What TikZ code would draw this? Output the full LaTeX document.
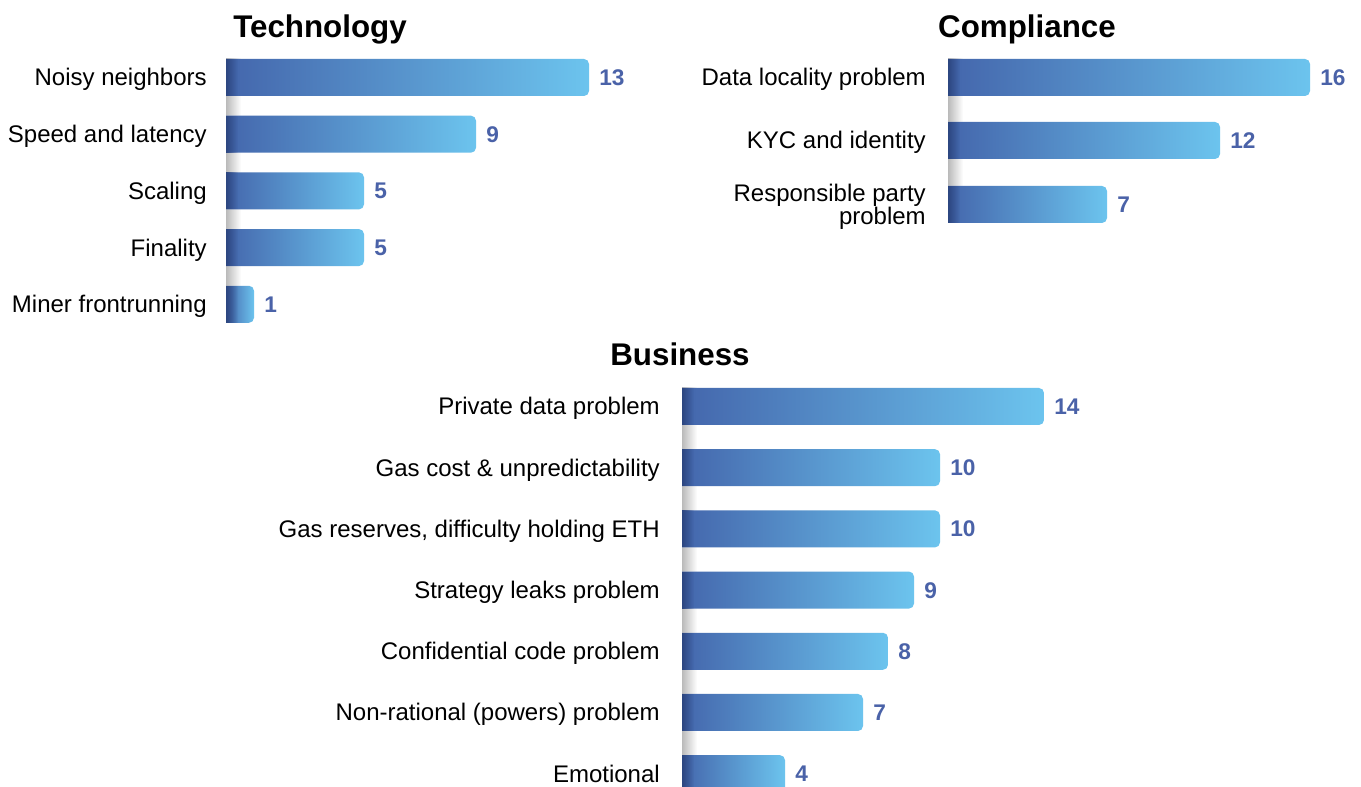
\documentclass[tikz,border=0pt]{standalone}
\usepackage{fontspec}
\setmainfont{Liberation Sans}
\usetikzlibrary{fadings}
\definecolor{barL}{HTML}{4466AC}
\definecolor{barR}{HTML}{6CC4EE}
\definecolor{barD}{HTML}{2C4680}
\definecolor{numC}{HTML}{4A62A8}
\tikzfading[name=fadeR, left color=transparent!0, right color=transparent!100]
\tikzset{
  lbl/.style={inner sep=0pt, font=\fontsize{18}{17.5}\selectfont},
  num/.style={inner sep=0pt, text=numC, font=\fontsize{17}{20}\selectfont\bfseries},
  ttl/.style={inner sep=0pt, font=\fontsize{23.5}{28}\selectfont\bfseries},
  axshade/.style={left color=black!27, right color=white, draw=none},
  barfill/.style={left color=barL, right color=barR, draw=none},
  baredge/.style={fill=barD, path fading=fadeR, draw=none}
}
\newcommand\barrow[7]{%
  \pgfmathsetmacro\yt{787-#3}%
  \pgfmathsetmacro\yb{787-#3-37}%
  \pgfmathsetmacro\yc{787-#3-18.5}%
  \shade[barfill] (#2,\yt) -- (#4-5,\yt) arc[start angle=90,end angle=0,radius=5] -- (#4,\yb+5) arc[start angle=0,end angle=-90,radius=5] -- (#2,\yb) -- cycle;
  \fill[baredge] (#2,\yb) rectangle (#2+12,\yt);
  \node[num,anchor=base west] (#1v) at (#4+10,\yc-8) {#5};
  \node[lbl,anchor=base east] (#1l) at (#7,\yc-8.5) {#6};
}
\begin{document}
\begin{tikzpicture}[x=0.75pt,y=0.75pt]
\useasboundingbox (0,0) rectangle (1361,787);
\fill[white] (0,0) rectangle (1361,787);
% axis shadows
\shade[axshade] (226,787-59) rectangle (241,787-322.8);
\shade[axshade] (948,787-59) rectangle (963,787-223);
\shade[axshade] (682,787-388) rectangle (697,0);
% titles
\node[ttl,anchor=base] (ttech) at (320,787-38) {Technology};
\node[ttl,anchor=base] (tcomp) at (1027,787-38) {Compliance};
\node[ttl,anchor=base] (tbus) at (680,787-366) {Business};
% technology
\barrow{ta}{226}{59}{589}{13}{Noisy neighbors}{207}
\barrow{tb}{226}{115.7}{476}{9}{Speed and latency}{207}
\barrow{tc}{226}{172.4}{364}{5}{Scaling}{207}
\barrow{td}{226}{229.1}{364}{5}{Finality}{207}
\barrow{te}{226}{285.8}{254}{1}{Miner frontrunning}{207}
% compliance
\barrow{ca}{948}{59}{1310}{16}{Data locality problem}{926}
\barrow{cb}{948}{122}{1220}{12}{KYC and identity}{926}
\barrow{cc}{948}{186}{1107}{7}{}{926}
\node[lbl,anchor=north east,align=right] (ccl) at (926,787-183.5) {Responsible party\\problem};
% business
\barrow{ba}{682}{388}{1044}{14}{Private data problem}{660}
\barrow{bb}{682}{449.2}{940}{10}{Gas cost \& unpredictability}{660}
\barrow{bc}{682}{510.4}{940}{10}{Gas reserves, difficulty holding ETH}{660}
\barrow{bd}{682}{571.6}{914}{9}{Strategy leaks problem}{660}
\barrow{be}{682}{632.8}{888}{8}{Confidential code problem}{660}
\barrow{bf}{682}{694}{863}{7}{Non-rational (powers) problem}{660}
\barrow{bg}{682}{755.2}{785}{4}{Emotional}{660}
\end{tikzpicture}
\end{document}
